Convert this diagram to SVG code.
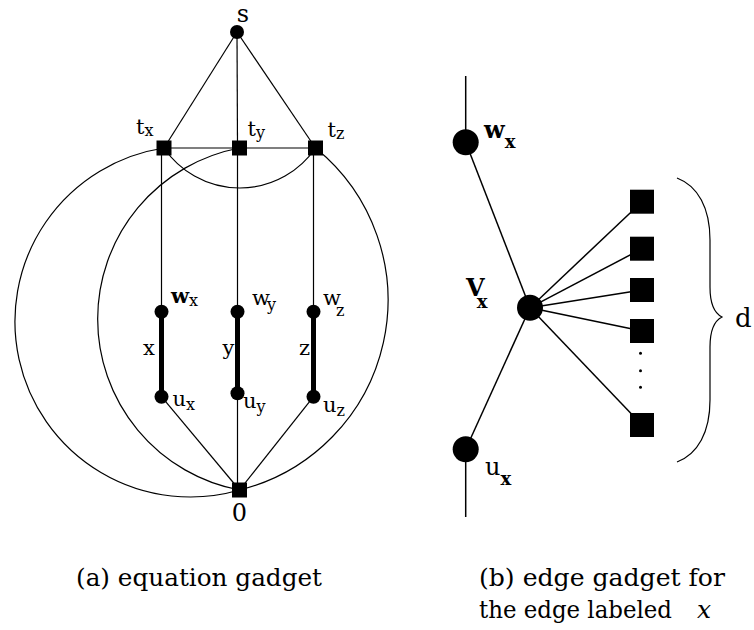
<svg xmlns="http://www.w3.org/2000/svg" width="754" height="630" viewBox="0 0 754 630">
<style>
.ln{stroke:#000;stroke-width:1.2;fill:none}
.ln2{stroke:#000;stroke-width:1.5;fill:none}
.thick{stroke:#000;stroke-width:5;fill:none}
</style>
<rect width="754" height="630" fill="#fff"/>
<g id="connectors">
<line class="ln" x1="237" y1="32" x2="164" y2="148"/>
<line class="ln" x1="237" y1="32" x2="237.5" y2="148"/>
<line class="ln" x1="237" y1="32" x2="315.5" y2="148"/>
<line class="ln" x1="164" y1="148" x2="315.5" y2="148"/>
<line class="ln" x1="161.5" y1="148" x2="161.5" y2="311.7"/>
<line class="ln" x1="237.5" y1="148" x2="237.5" y2="490"/>
<line class="ln" x1="313.5" y1="148" x2="313.5" y2="311.7"/>
<line class="thick" x1="161.5" y1="311.7" x2="161.5" y2="396.7"/>
<line class="thick" x1="237.5" y1="311.7" x2="237.5" y2="393.3"/>
<line class="thick" x1="313.5" y1="311.7" x2="313.5" y2="396.7"/>
<line class="ln" x1="161.5" y1="396.7" x2="239.5" y2="490"/>
<line class="ln" x1="313.5" y1="396.7" x2="239.5" y2="490"/>
<path class="ln" d="M164,148 A175.5,175.5 0 1 0 239.5,490"/>
<path class="ln" d="M239.5,148 A174,174 0 0 0 239.5,490"/>
<path class="ln" d="M164,148 A91.7,91.7 0 0 0 315.5,148"/>
<path class="ln" d="M315.5,148 A195.7,195.7 0 0 1 239.5,490"/>
<line class="ln2" x1="465.7" y1="76" x2="465.7" y2="142.3"/>
<line class="ln2" x1="465.7" y1="142.3" x2="530" y2="307.7"/>
<line class="ln2" x1="530" y1="307.7" x2="465.7" y2="449.3"/>
<line class="ln2" x1="465.7" y1="449.3" x2="465.7" y2="517"/>
<line class="ln2" x1="530" y1="307.7" x2="642" y2="201.7"/>
<line class="ln2" x1="530" y1="307.7" x2="642" y2="248.7"/>
<line class="ln2" x1="530" y1="307.7" x2="642" y2="290"/>
<line class="ln2" x1="530" y1="307.7" x2="642" y2="331"/>
<line class="ln2" x1="530" y1="307.7" x2="642" y2="425"/>
</g>
<g font-family="DejaVu Serif, serif" font-size="21" fill="#000">
<g id="node-s"><circle cx="237" cy="32" r="7"/><text x="243" y="22" text-anchor="middle" font-size="24">s</text></g>
<g id="node-tx"><rect x="156.5" y="140.5" width="15" height="15"/><text x="136" y="134">t<tspan font-size="16" dy="2">x</tspan></text></g>
<g id="node-ty"><rect x="232" y="140.5" width="15" height="15"/><text x="247.5" y="136">t<tspan font-size="16" dy="2">y</tspan></text></g>
<g id="node-tz"><rect x="308" y="140.5" width="15" height="15"/><text x="327.5" y="137">t<tspan font-size="16" dy="2">z</tspan></text></g>
<g id="node-wx"><circle cx="161.5" cy="311.7" r="7"/><text x="171" y="303"><tspan font-weight="bold">w</tspan><tspan font-size="16" dy="3">x</tspan></text></g>
<g id="node-wy"><circle cx="237.5" cy="311.7" r="7"/><text x="252" y="305">w<tspan font-size="16" dx="-3" dy="5">y</tspan></text></g>
<g id="node-wz"><circle cx="313.5" cy="311.7" r="7"/><text x="323" y="305">w<tspan font-size="16" dx="-5" dy="11">z</tspan></text></g>
<g id="node-ux"><circle cx="161.5" cy="396.7" r="7"/><text x="172.5" y="406">u<tspan font-size="16" dy="4">x</tspan></text></g>
<g id="node-uy"><circle cx="237.5" cy="393.3" r="7"/><text x="243" y="408">u<tspan font-size="16" dy="4">y</tspan></text></g>
<g id="node-uz"><circle cx="313.5" cy="396.7" r="7"/><text x="323" y="412">u<tspan font-size="16" dy="4">z</tspan></text></g>
<g id="edge-labels">
<text x="143" y="355">x</text>
<text x="222.5" y="355">y</text>
<text x="299" y="355">z</text>
</g>
<g id="node-0"><rect x="232" y="482.5" width="15" height="15"/><text x="239.5" y="521" text-anchor="middle" font-size="24">0</text></g>
<g id="node-wx-b"><circle cx="465.7" cy="142.3" r="13"/><text x="484" y="138" font-size="24" font-weight="bold">w<tspan font-size="18" dy="10">x</tspan></text></g>
<g id="node-vx"><circle cx="530" cy="307.7" r="13"/><text x="466" y="296" font-size="24" font-weight="bold">V<tspan font-size="18" dx="-8" dy="12">x</tspan></text></g>
<g id="node-ux-b"><circle cx="465.7" cy="449.3" r="13"/><text x="485" y="475" font-size="24">u<tspan font-size="18" font-weight="bold" dy="10">x</tspan></text></g>
<g id="squares">
<rect x="630" y="189.7" width="24" height="24"/>
<rect x="630" y="236.7" width="24" height="24"/>
<rect x="630" y="278" width="24" height="24"/>
<rect x="630" y="319" width="24" height="24"/>
<rect x="630" y="413" width="24" height="24"/>
<circle cx="640.5" cy="353.3" r="1.5"/>
<circle cx="640.5" cy="370.7" r="1.5"/>
<circle cx="640.5" cy="387.3" r="1.5"/>
</g>
<g id="brace">
<path class="ln" d="M677,178 C698,186 710,208 710,240 L710,287 C710,302 714,313 722,317 C714,321 710,332 710,347 L710,400 C710,432 698,454 677,462"/>
<text x="735" y="327" font-size="26">d</text>
</g>
<g id="captions" font-size="25">
<text x="76" y="586" textLength="246" lengthAdjust="spacingAndGlyphs">(a) equation gadget</text>
<text x="479" y="586" textLength="246" lengthAdjust="spacingAndGlyphs">(b) edge gadget for</text>
<text x="479" y="618" textLength="193" lengthAdjust="spacingAndGlyphs">the edge labeled</text>
<text x="697" y="618" font-style="italic">x</text>
</g>
</g>
</svg>
